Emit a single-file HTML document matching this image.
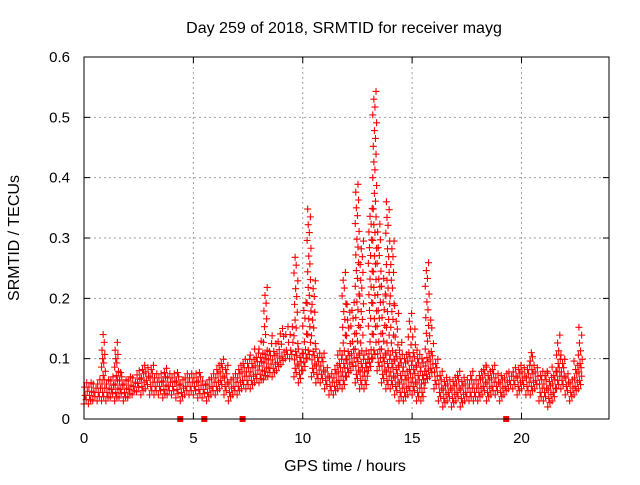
<!DOCTYPE html>
<html><head><meta charset="utf-8"><style>
body{margin:0;background:#fff}
svg text{font-family:"Liberation Sans",sans-serif;font-size:16px;fill:#000}
svg text.tk{font-size:15px}
</style></head><body>
<svg id="chart" width="640" height="480" xmlns="http://www.w3.org/2000/svg">
<rect width="640" height="480" fill="#fff"/>
<text x="344" y="33" text-anchor="middle">Day 259 of 2018, SRMTID for receiver mayg</text>
<text transform="translate(19,238) rotate(-90)" text-anchor="middle">SRMTID / TECUs</text>
<text x="345" y="471" text-anchor="middle">GPS time / hours</text>
<g id="grid"></g><g id="marks"></g><g id="axes"></g>
</svg>
<script>
const xTicks=[0,5,10,15,20];
const yTicks=[0,0.1,0.2,0.3,0.4,0.5,0.6];
const yTickLabels=["0","0.1","0.2","0.3","0.4","0.5","0.6"];
const gapTimes=[4.4,5.5,7.25,19.3];
const times=[];for(let i=0;i<114;i++)times.push(+(i*0.2).toFixed(1));
const loVals=[.025,.025,.03,.03,.03,.03,.035,.03,.035,.03,.035,.04,.045,.04,.05,.04,.04,.04,.035,.04,.04,.035,.03,.04,.04,.04,.035,.035,.03,.04,.04,.05,.04,.03,.04,.04,.05,.05,.05,.06,.06,.065,.07,.07,.08,.09,.10,.10,.07,.06,.08,.10,.07,.06,.06,.05,.04,.04,.05,.05,.07,.08,.06,.05,.05,.08,.10,.08,.06,.05,.05,.04,.03,.03,.04,.04,.03,.03,.06,.07,.05,.03,.02,.03,.02,.03,.02,.03,.03,.03,.03,.04,.03,.04,.04,.03,.04,.05,.05,.04,.05,.04,.04,.05,.03,.03,.02,.03,.05,.05,.04,.03,.04,.05];
const hiVals=[.06,.065,.06,.07,.14,.07,.07,.13,.08,.07,.07,.07,.08,.09,.09,.09,.08,.08,.09,.08,.075,.08,.07,.08,.08,.075,.08,.065,.065,.075,.09,.10,.09,.07,.08,.09,.10,.10,.11,.12,.13,.22,.13,.14,.15,.15,.16,.16,.28,.12,.20,.35,.24,.12,.11,.09,.08,.09,.12,.25,.20,.20,.40,.30,.12,.35,.55,.33,.24,.37,.30,.20,.13,.11,.18,.15,.12,.10,.26,.17,.10,.08,.07,.065,.07,.08,.07,.07,.08,.07,.08,.09,.09,.09,.08,.075,.08,.08,.09,.09,.09,.09,.12,.09,.08,.08,.08,.09,.14,.11,.08,.07,.10,.16];
const L=84,R=609,T=57,B=419;
const X=t=>L+(R-L)*t/24, Y=v=>B-(B-T)*v/0.6;
const NS="http://www.w3.org/2000/svg";
function mk(tag,attrs,parent){const e=document.createElementNS(NS,tag);for(const k in attrs)e.setAttribute(k,attrs[k]);parent.appendChild(e);return e;}
const grid=document.getElementById('grid'),axes=document.getElementById('axes'),marks=document.getElementById('marks');
xTicks.forEach(t=>{
 if(t>0){const g=mk('line',{x1:X(t),x2:X(t),y1:T,y2:B,stroke:'#a0a0a0','stroke-dasharray':'2,3'},grid);
 
 }
 const tk=mk('path',{d:`M${X(t)},${B}v-6M${X(t)},${T}v6`,stroke:'#000'},axes);
 
 
 const tx=mk('text',{x:X(t),y:B+24,'text-anchor':'middle','class':'tk'},axes);tx.textContent=t;
 
 
});
yTicks.forEach((v,i)=>{
 if(v>0&&v<0.6){const g=mk('line',{x1:L,x2:R,y1:Y(v),y2:Y(v),stroke:'#a0a0a0','stroke-dasharray':'2,3'},grid);
 
 }
 const tk=mk('path',{d:`M${L},${Y(v)}h6M${R},${Y(v)}h-6`,stroke:'#000'},axes);
 
 
 const tx=mk('text',{x:L-14,y:Y(v)+5,'text-anchor':'end','class':'tk'},axes);tx.textContent=yTickLabels[i];
 
 
});
const fr=mk('rect',{x:L,y:T,width:R-L,height:B-T,fill:'none',stroke:'#000'},axes);


const offs=[0,0.1,0.05,0.15,0.025,0.125,0.075,0.175];
times.forEach((t,i)=>{
 const lo=loVals[i],hi=hiVals[i];let k=0;let d='';
 for(let v=lo;v<=hi+1e-9;v+=(v<0.11?0.007:0.013)){const x=X(t+offs[k%8]),y=Y(v);d+=`M${x-3.5},${y}h7M${x},${y-3.5}v7`;k++;}
 const p=mk('path',{d:d,stroke:'#f00','stroke-width':1.1,fill:'none'},marks);
 
 
});
gapTimes.forEach(t=>{
 const r=mk('rect',{x:X(t)-3,y:B-3,width:6,height:6,fill:'#f00'},marks);
 
 
});
</script>
</body></html>
